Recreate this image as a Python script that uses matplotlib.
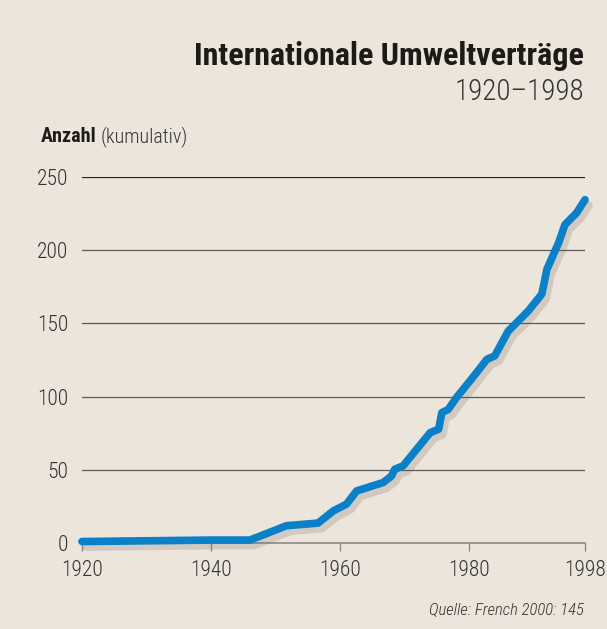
import matplotlib
matplotlib.use("Agg")
import matplotlib.pyplot as plt
import matplotlib.patheffects as pe

# cumulative number of international environmental treaties
years = [1920, 1940, 1946, 1947.5, 1951.7, 1956.6, 1959, 1961, 1962.6, 1966.7,
         1968, 1968.5, 1969.8, 1974, 1975.3, 1975.8, 1976.8, 1978.1, 1980.4, 1982.8,
         1984, 1986.1, 1987.4, 1989.2, 1991.3, 1992.1, 1993.9, 1994.9, 1996.7, 1998]
counts = [1, 2, 2, 4.5, 11.8, 13.6, 22, 26.5, 35.6, 41.3,
          45.8, 50.4, 52.7, 75.4, 77.7, 89, 91.3, 99.5, 112, 125.5,
          127.8, 144.8, 150.5, 158.5, 170, 187, 205, 217.5, 225.5, 234.5]
xticks = [1920, 1940, 1960, 1980, 1998]
yticks = [0, 50, 100, 150, 200, 250]

plt.rcParams['font.family'] = ['Roboto Condensed', 'DejaVu Sans']

bg = '#ece5dc'
W, H = 607, 629
fig = plt.figure(figsize=(W / 100, H / 100), dpi=100, facecolor=bg)
ax = fig.add_axes([82 / W, 1 - 543 / H, 503 / W, 366 / H])
ax.set_facecolor(bg)

for v in yticks[1:]:
    ax.axhline(v, color='#222222' if v == 250 else '#5a5a5a', lw=0.9, zorder=1)

ax.plot(years, counts, color='#0a80c8', lw=5.5, solid_capstyle='round',
        solid_joinstyle='round', clip_on=False, zorder=3,
        path_effects=[pe.SimpleLineShadow(offset=(3, -4), shadow_color='#6b6158', alpha=0.2),
                      pe.Normal()])

ax.set_xlim(1920, 1998)
ax.set_ylim(0, 250)
for s in ['top', 'right', 'left']:
    ax.spines[s].set_visible(False)
ax.spines['bottom'].set_color('#8a8a8a')
ax.spines['bottom'].set_linewidth(1.2)

ax.set_xticks(xticks)
ax.set_yticks(yticks)
ax.tick_params(axis='x', length=6, width=1, color='#8a8a8a', pad=6,
               labelsize=15.5, labelcolor='#333333')
ax.tick_params(axis='y', length=0, pad=10, labelsize=15.5, labelcolor='#333333')
for lab in ax.get_xticklabels() + ax.get_yticklabels():
    lab.set_fontweight('light')

fig.text(584 / W, 1 - 65 / H, 'Internationale Umweltverträge', ha='right',
         va='baseline', fontsize=23, fontweight='bold', color='#1e1a18')
fig.text(584 / W, 1 - 100 / H, '1920–1998', ha='right', va='baseline',
         fontsize=21, fontweight='light', color='#333333')

t1 = fig.text(41 / W, 1 - 142 / H, 'Anzahl', ha='left', va='baseline',
              fontsize=14.5, fontweight='bold', color='#1e1a18')
fig.canvas.draw()
bb = t1.get_window_extent()
fig.text((bb.x1 + 4) / W, 1 - 142 / H, '(kumulativ)', ha='left', va='baseline',
         fontsize=14.5, fontweight='light', color='#333333')

fig.text(584 / W, 1 - 614 / H, 'Quelle: French 2000: 145', ha='right',
         va='baseline', fontsize=12, style='italic', fontweight='light', color='#333333')

fig.savefig('out.png', dpi=100, facecolor=bg)
